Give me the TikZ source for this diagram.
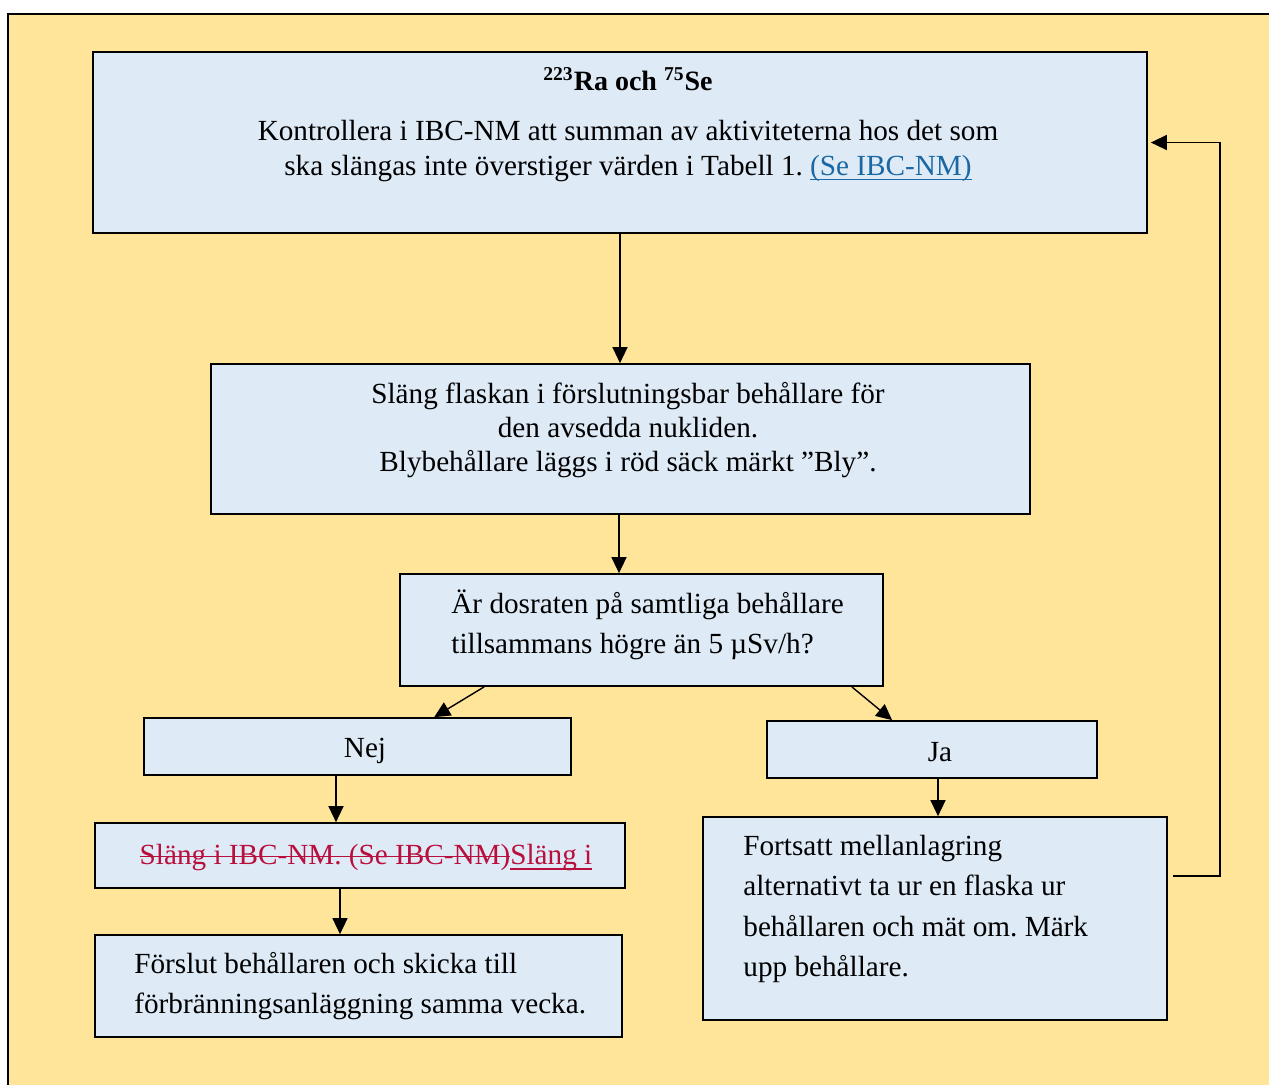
\documentclass[tikz,border=0pt]{standalone}
\usepackage{fontspec}
\setmainfont{Liberation Serif}
\usetikzlibrary{arrows.meta}
\frenchspacing

\definecolor{backyellow}{HTML}{FFE599}
\definecolor{boxblue}{HTML}{DEEAF6}
\definecolor{trackred}{HTML}{B80F3C}
\definecolor{linkblue}{HTML}{1A67A3}

\newlength\markwd
\newcommand\strk[1]{\settowidth\markwd{#1}\rlap{\rule[0.27em]{\markwd}{0.6pt}}#1}
\newcommand\undr[1]{\settowidth\markwd{#1}\rlap{\rule[-0.16em]{\markwd}{0.6pt}}#1}

\begin{document}
\begin{tikzpicture}[x=0.5pt,y=-0.5pt,
        box/.style={draw, fill=boxblue, line width=0.85pt, inner sep=0pt},
        txt/.style={font=\fontsize{14.6}{17.2}\selectfont, inner sep=0pt, align=center},
        wide/.style={font=\fontsize{14.6}{20.2}\selectfont, inner sep=0pt, align=left},
        arr/.style={-{Triangle[length=8pt,width=7.5pt]}, line width=0.7pt}
    ]
    \fill[white] (0,0) rectangle (1269,1084);
    \useasboundingbox (0,0) rectangle (1269,1084);
    \draw[fill=backyellow, line width=0.8pt] (8,14) rectangle (1300,1120);

    % boxes
    \node[box, minimum width=527pt, minimum height=90.5pt] (b1) at (620,142.5) {};
    \node[box, minimum width=409.5pt, minimum height=75pt] (b2) at (620.5,439) {};
    \node[box, minimum width=241.5pt, minimum height=56pt] (b3) at (641.5,630) {};
    \node[box, minimum width=213.5pt, minimum height=28.5pt] (nej) at (357.5,746.5) {};
    \node[box, minimum width=165pt, minimum height=28.5pt] (ja) at (932,749.5) {};
    \node[box, minimum width=265pt, minimum height=32.5pt] (b6) at (360,855.5) {};
    \node[box, minimum width=263.5pt, minimum height=51pt] (b7) at (358.5,986) {};
    \node[box, minimum width=232pt, minimum height=101.5pt] (b8) at (935,918.5) {};

    % texts
    \node[txt, font=\bfseries\fontsize{14}{17}\selectfont] (title) at (628,79)
        {\textsuperscript{223}Ra och \textsuperscript{75}Se};
    \node[txt] (t1) at (628,151) {Kontrollera i IBC-NM att summan av aktiviteterna hos det som\\
        ska slängas inte överstiger värden i Tabell 1. {\color{linkblue}\undr{(Se IBC-NM)}}};
    \node[txt] (t2) at (628,430) {Släng flaskan i förslutningsbar behållare för\\
        den avsedda nukliden.\\ Blybehållare läggs i röd säck märkt ”Bly”.};
    \node[wide, anchor=west] (t3) at (451,625) {Är dosraten på samtliga behållare\\
        tillsammans högre än 5 µSv/h?};
    \node[txt] (t4) at (365,751) {Nej};
    \node[txt] (t5) at (940,752) {Ja};
    \node[txt] (t6) at (366,858) {\color{trackred}\strk{Släng i IBC-NM. (Se IBC-NM)}\undr{Släng i}};
    \node[wide, anchor=west] (t7) at (134,986) {Förslut behållaren och skicka till\\
        förbränningsanläggning samma vecka.};
    \node[wide, anchor=west] (t8) at (743,909) {Fortsatt mellanlagring\\
        alternativt ta ur en flaska ur\\ behållaren och mät om. Märk\\ upp behållare.};

    % connectors
    \coordinate (loop) at (1220,0);
    \draw[arr] (b1.south) -- (b1.south |- b2.north);
    \draw[arr] ([xshift=-0.75pt]b2.south) -- ([xshift=-0.75pt]b2.south |- b3.north);
    \draw[arr] ([xshift=42.5pt]b3.south west) -- ([xshift=145.5pt]nej.north west);
    \draw[arr] ([xshift=-16pt]b3.south east) -- ([xshift=63pt]ja.north west);
    \draw[arr] ([xshift=-10.75pt]nej.south) -- ([xshift=-10.75pt]nej.south |- b6.north);
    \draw[arr] ([xshift=-10pt]b6.south) -- ([xshift=-10pt]b6.south |- b7.north);
    \draw[arr] ([xshift=3pt]ja.south) -- ([xshift=3pt]ja.south |- b8.north);
    \draw[arr] ([xshift=2.5pt,yshift=21.25pt]b8.east) -| (loop |- b1.east) -- ([xshift=1.5pt]b1.east);
\end{tikzpicture}
\end{document}
